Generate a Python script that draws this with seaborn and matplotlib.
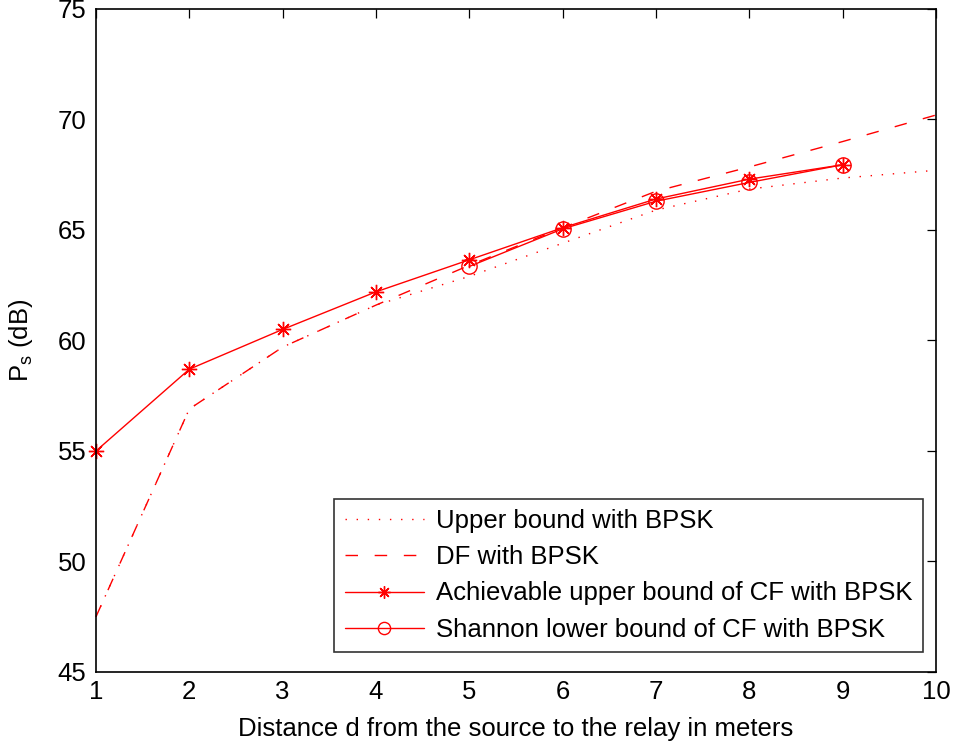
import matplotlib
matplotlib.use("Agg")
import matplotlib.pyplot as plt
import seaborn as sns

# Source-to-relay distance (m) and required source power (dB)
distance = [1, 2, 3, 4, 5, 6, 7, 8, 9, 10]
upper_bound_bpsk = [47.5, 56.9, 59.7, 61.6, 62.9, 64.4, 65.9, 66.85, 67.35, 67.7]
df_bpsk = [47.5, 56.9, 59.7, 61.6, 63.4, 65.1, 66.75, 67.85, 69.0, 70.2]

cf_distance = [1, 2, 3, 4, 5, 6, 7, 8, 9]
cf_achievable_upper = [55.0, 58.7, 60.5, 62.2, 63.65, 65.1, 66.4, 67.3, 67.95]

shannon_distance = [5, 6, 7, 8, 9]
cf_shannon_lower = [63.35, 65.05, 66.3, 67.15, 67.95]

labels = [
    "Upper bound with BPSK",
    "DF with BPSK",
    "Achievable upper bound of CF with BPSK",
    "Shannon lower bound of CF with BPSK",
]

sns.set_theme(style="white")
plt.rcParams["font.family"] = ["Liberation Sans", "DejaVu Sans"]
plt.rcParams["mathtext.fontset"] = "custom"
plt.rcParams["mathtext.rm"] = "Liberation Sans"
plt.rcParams["text.color"] = "black"
plt.rcParams["axes.labelcolor"] = "black"

FS = 18.5

fig = plt.figure(figsize=(9.57, 7.46), dpi=100)
ax = fig.add_axes([0.1003, 0.0992, 0.8777, 0.8888])

red = "#ff0000"
lw = 1.0

sns.lineplot(x=distance, y=upper_bound_bpsk, ax=ax, color=red, lw=lw,
             linestyle=(0, (1, 7)), label=labels[0], clip_on=False)
sns.lineplot(x=distance, y=df_bpsk, ax=ax, color=red, lw=lw,
             linestyle=(0, (9, 12)), label=labels[1], clip_on=False)
sns.lineplot(x=cf_distance, y=cf_achievable_upper, ax=ax, color=red, lw=lw,
             marker=(8, 2, 0), markersize=11, markeredgecolor=red,
             markeredgewidth=1.0, label=labels[2], clip_on=False)
sns.lineplot(x=shannon_distance, y=cf_shannon_lower, ax=ax, color=red, lw=lw,
             marker="o", markersize=11, markerfacecolor="none",
             markeredgecolor=red, markeredgewidth=1.0, label=labels[3],
             clip_on=False)

ax.set_xlim(1, 10)
ax.set_ylim(45, 75)
ax.set_xticks(range(1, 11))
ax.set_yticks(range(45, 80, 5))

ax.tick_params(direction="in", length=6.5, width=0.9, top=True, right=True,
               labelsize=FS, colors="black")
ax.tick_params(axis="x", pad=6)
ax.tick_params(axis="y", pad=7)
for spine in ax.spines.values():
    spine.set_color("black")
    spine.set_linewidth(1.2)

ax.set_xlabel("Distance d from the source to the relay in meters", fontsize=FS,
              labelpad=9)
ax.set_ylabel(r"P$_\mathregular{s}$ (dB)", fontsize=FS, labelpad=16)

leg = ax.legend(loc="lower right", bbox_to_anchor=(0.984, 0.03), fontsize=FS,
                frameon=True, fancybox=False, edgecolor="black",
                handlelength=3.1, handletextpad=0.45, labelspacing=0.48,
                borderpad=0.4, borderaxespad=0.0, markerscale=0.8)
leg.get_frame().set_linewidth(1.2)

fig.savefig("out.png", dpi=100, facecolor="white")
